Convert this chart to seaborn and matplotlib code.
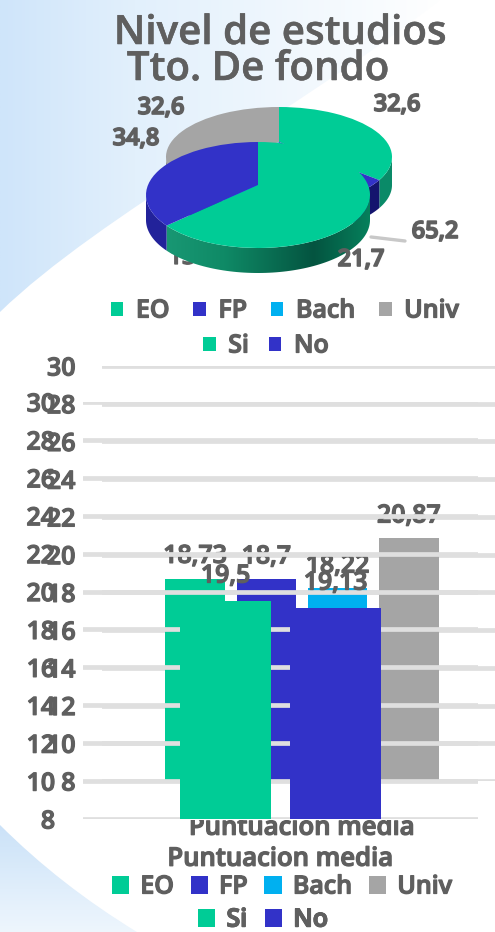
import numpy as np
import pandas as pd
import matplotlib
matplotlib.use("Agg")
import matplotlib.pyplot as plt
import matplotlib.patheffects as pe
from matplotlib.path import Path
from matplotlib.patches import PathPatch, Patch
from matplotlib.transforms import Bbox
from matplotlib.colors import LinearSegmentedColormap
import seaborn as sns

# ---- data ----
titles = ["Nivel de estudios", "Tto. De fondo"]
study_levels = ["EO", "FP", "Bach", "Univ"]
study_shares = [32.6, 21.7, 13.0, 32.6]
treatment_levels = ["Si", "No"]
treatment_shares = [65.2, 34.8]
category = "Puntuacion media"
study_scores = [18.73, 18.7, 18.22, 20.87]
treatment_scores = [19.5, 19.13]
y_ticks = list(range(8, 31, 2))

study_colors = ["#00cc96", "#3232c8", "#00b0f0", "#a5a5a5"]
study_sides = ["#0a8a68", "#14146e", "#0078a8", "#8a8a8a"]
treatment_colors = ["#00cc96", "#3232c8"]
treatment_sides = ["#0a7a5a", "#22229a"]

TXT = "#5f5f5f"
W, H = 495, 932
FONT = "Open Sans"

sns.set_theme(style="white")
plt.rcParams["font.family"] = [FONT, "DejaVu Sans"]
plt.rcParams["font.weight"] = "semibold"

fig = plt.figure(figsize=(W / 100, H / 100), dpi=100, facecolor="white")


def px_axes(left, top, right, bottom, **kw):
    return fig.add_axes([left / W, 1 - bottom / H, (right - left) / W, (bottom - top) / H], **kw)


def heavy(w=0.9):
    return [pe.withStroke(linewidth=w, foreground=TXT)]


# ---- background ----
bg = px_axes(0, 0, W, H)
bg.set_xlim(0, W)
bg.set_ylim(H, 0)
bg.axis("off")
cm_h = LinearSegmentedColormap.from_list("h", [(0, "#cfe5fa"), (0.3, "#e2f0fc"), (1, "#ffffff")])
cm_v = LinearSegmentedColormap.from_list("v", ["#cbe2f8", "#eef6fd"])
top_img = bg.imshow(np.linspace(0, 1, 256)[None, :], extent=(0, 450, 330, 0), cmap=cm_h, aspect="auto")
top_img.set_clip_path(PathPatch(
    Path([(0, 0), (440, 0), (300, 110), (100, 215), (0, 312), (0, 0)],
         [Path.MOVETO, Path.LINETO, Path.CURVE4, Path.CURVE4, Path.CURVE4, Path.CLOSEPOLY]),
    transform=bg.transData))
bot_img = bg.imshow(np.linspace(0, 1, 256)[:, None], extent=(0, 140, 932, 825), cmap=cm_v, aspect="auto")
bot_img.set_clip_path(PathPatch(
    Path([(0, 825), (60, 885), (137, 932), (0, 932), (0, 825)],
         [Path.MOVETO, Path.CURVE3, Path.CURVE3, Path.LINETO, Path.CLOSEPOLY]),
    transform=bg.transData))
bg.set_xlim(0, W)
bg.set_ylim(H, 0)
bg.text(182, 258, f"{study_shares[2]:.0f}", fontsize=17, color=TXT, ha="center", va="center",
        path_effects=heavy())


# ---- 3D-looking pies ----
def rim_path(t1, t2, yc, ry, depth):
    t = np.radians(np.linspace(t1, t2, 80))
    x, y = np.cos(t), yc + ry * np.sin(t)
    xy = np.r_[np.c_[x, y], np.c_[x, y - depth][::-1], [[x[0], y[0]]]]
    return Path(xy, closed=True)


def pie3d(cx, cy, rx, rtop, rbot, depth, values, colors, sides, gradient=None):
    ax = px_axes(cx - rx, cy - rx, cx + rx, cy + rx)
    ry = (rtop + rbot) / 2 / rx
    yc = (rtop - rbot) / 2 / rx
    d = depth / rx
    ax.patch.set_alpha(0)
    angles = 90 - np.cumsum([0] + list(values)) * 3.6
    for i, side in enumerate(sides):
        lo, hi = max(angles[i + 1], -180), min(angles[i], 0)
        if lo >= hi:
            continue
        p = rim_path(lo, hi, yc, ry, d)
        if gradient is not None and i == gradient[0]:
            im = ax.imshow(np.linspace(0, 1, 256)[None, :], extent=(-1, 1, -2, 2),
                           cmap=gradient[1], aspect="auto", zorder=1)
            im.set_clip_path(PathPatch(p, transform=ax.transData))
        else:
            ax.add_patch(PathPatch(p, facecolor=side, edgecolor="none", zorder=1))
    wedges, _ = ax.pie(values, colors=colors, startangle=90, counterclock=False,
                       wedgeprops=dict(linewidth=0, zorder=2))
    for w in wedges:
        v = w.get_path().vertices
        outer = np.hypot(v[:, 0], v[:, 1]) > 0.01
        v[:, 1] = np.where(outer, yc + ry * v[:, 1], 0.0)
    ax.set_aspect("auto")
    ax.set_xlim(-1, 1)
    ax.set_ylim(-1, 1)
    ax.axis("off")
    return ax, wedges


_, back_wedges = pie3d(279, 142, 113, 35, 65, 28, study_shares, study_colors, study_sides)
green_rim = LinearSegmentedColormap.from_list(
    "g", [(0, "#1c9c78"), (0.35, "#0f8a66"), (0.75, "#045440"), (1, "#06805c")])
_, front_wedges = pie3d(258, 185, 112, 43, 63, 25, treatment_shares, treatment_colors,
                        treatment_sides, gradient=(0, green_rim))

# ---- bars ----
study_df = pd.DataFrame({"cat": [category] * 4, "level": study_levels, "score": study_scores})
treat_df = pd.DataFrame({"cat": [category] * 2, "level": treatment_levels, "score": treatment_scores})


def style_bar_axes(ax, pad):
    ax.patch.set_alpha(0)
    ax.set_ylim(8, 30)
    ax.set_yticks(y_ticks)
    ax.set_xlabel("")
    ax.set_ylabel("")
    ax.grid(axis="y", color="#dfdfdf", linewidth=3.4)
    ax.set_axisbelow(True)
    sns.despine(ax=ax, left=True, bottom=True)
    ax.tick_params(axis="y", length=0, pad=pad, labelsize=18, labelcolor=TXT)
    ax.tick_params(axis="x", length=0, labelsize=18.5, labelcolor=TXT)
    for t in ax.get_yticklabels() + ax.get_xticklabels():
        t.set_path_effects(heavy())


def value_labels(ax, pad):
    for c in ax.containers:
        txt = [f"{v:g}".replace(".", ",") for v in c.datavalues]
        for t in ax.bar_label(c, labels=txt, padding=pad, fontsize=18, color=TXT):
            t.set_path_effects(heavy())


ax_a = px_axes(102, 366, 502, 781)
sns.barplot(data=study_df, x="cat", y="score", hue="level", palette=study_colors, ax=ax_a,
            width=0.713, gap=0.17, legend=False, saturation=1, zorder=3, linewidth=0, edgecolor="none")
style_bar_axes(ax_a, 19)
value_labels(ax_a, 7)
ax_a.tick_params(axis="x", pad=25)
for t in ax_a.get_xticklabels():
    t.set_clip_box(Bbox([[0, 0], [W, H - 820]]))
    t.set_clip_on(True)

ax_b = px_axes(83, 402, 478, 819)
sns.barplot(data=treat_df, x="cat", y="score", hue="level", palette=treatment_colors, ax=ax_b,
            width=0.557, gap=0.18, legend=False, saturation=1, zorder=3, linewidth=0, edgecolor="none")
style_bar_axes(ax_b, 20)
value_labels(ax_b, 9)
ax_b.tick_params(axis="x", pad=20)

# ---- text and legends on top ----
ov = px_axes(0, 0, W, H)
ov.set_xlim(0, W)
ov.set_ylim(H, 0)
ov.axis("off")
ov.patch.set_alpha(0)
ov.text(280, 34, titles[0], fontsize=29, color=TXT, ha="center", va="center", path_effects=heavy(0.4))
ov.text(258, 70, titles[1], fontsize=29, color=TXT, ha="center", va="center", path_effects=heavy(0.4))


def comma(v):
    return f"{v:.1f}".replace(".", ",")


ov.plot([371, 405], [237, 241], color="#c8c8c8", lw=2.4, zorder=1)
for x, y, v in [(397, 105, study_shares[0]), (361, 260, study_shares[1]), (161, 108, study_shares[3]),
                (435, 232, treatment_shares[0]), (136, 139, treatment_shares[1])]:
    ov.text(x, y, comma(v), fontsize=17, color=TXT, ha="center", va="center", path_effects=heavy(1.2), zorder=2)


def legend(labels, colors, cx, cy, size, spacing, pad=0.5):
    hs = [Patch(facecolor=c, edgecolor="none", label=l) for c, l in zip(colors, labels)]
    lg = ov.legend(handles=hs, ncols=len(hs), loc="center", bbox_to_anchor=(cx / W, 1 - cy / H),
                   bbox_transform=fig.transFigure, frameon=False, fontsize=18, labelcolor=TXT,
                   handlelength=size, handleheight=size, handletextpad=pad,
                   columnspacing=spacing, borderpad=0, borderaxespad=0)
    for t in lg.get_texts():
        t.set_path_effects(heavy())
    ov.add_artist(lg)


legend(study_levels, study_colors, 285, 311, 0.5, 0.95)
legend(treatment_levels, treatment_colors, 266, 346, 0.5, 0.8)
legend(study_levels, study_colors, 282, 887, 0.7, 0.66, 0.44)
legend(treatment_levels, treatment_colors, 263, 920, 0.7, 0.7, 0.44)

fig.savefig("out.png", dpi=100)
